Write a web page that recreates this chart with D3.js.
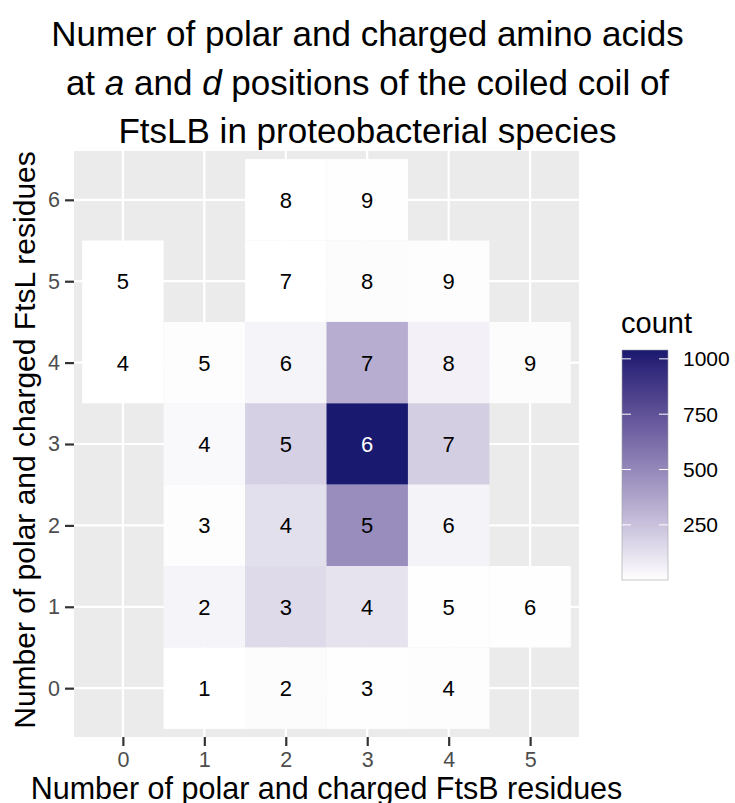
<!DOCTYPE html>
<html><head><meta charset="utf-8">
<script src="https://cdn.jsdelivr.net/npm/d3@7"></script>
<style>
body{margin:0;background:#fff}
text{font-family:"Liberation Sans",Arial,Helvetica,sans-serif}
</style>
</head><body>
<svg id="chart" width="735" height="803"></svg>
<script>
// ---- data ----
const xLevels = [0, 1, 2, 3, 4, 5];
const yLevels = [0, 1, 2, 3, 4, 5, 6];
const tileX     = [2, 3,   0, 2, 3, 4,   0, 1, 2, 3, 4, 5,   1, 2, 3, 4,   1, 2, 3, 4,   1, 2, 3, 4, 5,   1, 2, 3, 4];
const tileY     = [6, 6,   5, 5, 5, 5,   4, 4, 4, 4, 4, 4,   3, 3, 3, 3,   2, 2, 2, 2,   1, 1, 1, 1, 1,   0, 0, 0, 0];
const tileCount = [2, 3,   1, 2, 12, 10, 1, 8, 45, 340, 57, 12, 30, 190, 1040, 198, 9, 127, 478, 50, 45, 150, 114, 5, 4, 1, 12, 5, 9];
const tileLabel = [8, 9,   5, 7, 8, 9,   4, 5, 6, 7, 8, 9,   4, 5, 6, 7,   3, 4, 5, 6,   2, 3, 4, 5, 6,   1, 2, 3, 4];
const legendTicks = [250, 500, 750, 1000];
const countRange = [1, 1040];

const tiles = tileX.map((x, i) => ({x, y: tileY[i], count: tileCount[i], label: tileLabel[i]}));

const svg = d3.select("#chart");
const P = {left: 74, right: 579, top: 151, bottom: 737};

const x = d3.scaleLinear().domain([-0.6, 5.6]).range([P.left, P.right]);
const y = d3.scaleLinear().domain([-0.6, 6.6]).range([P.bottom, P.top]);
const color = d3.scaleLinear().domain(countRange).range(["#ffffff", "#191970"]).interpolate(d3.interpolateLab);

// panel
svg.append("rect").attr("x", P.left).attr("y", P.top).attr("width", P.right - P.left).attr("height", P.bottom - P.top).attr("fill", "#ebebeb");
svg.append("g").selectAll("line").data(xLevels).join("line")
  .attr("x1", d => x(d)).attr("x2", d => x(d)).attr("y1", P.top).attr("y2", P.bottom)
  .attr("stroke", "#fff").attr("stroke-width", 2.2);
svg.append("g").selectAll("line").data(yLevels).join("line")
  .attr("y1", d => y(d)).attr("y2", d => y(d)).attr("x1", P.left).attr("x2", P.right)
  .attr("stroke", "#fff").attr("stroke-width", 2.2);

// title
const title = svg.append("text").attr("text-anchor", "middle").attr("font-size", 35).attr("fill", "#000");
title.append("tspan").attr("x", 367.5).attr("y", 46).text("Numer of polar and charged amino acids");
const l2 = title.append("tspan").attr("x", 367.5).attr("y", 95);
l2.append("tspan").text("at ");
l2.append("tspan").attr("font-style", "italic").text("a");
l2.append("tspan").text(" and ");
l2.append("tspan").attr("font-style", "italic").text("d");
l2.append("tspan").text(" positions of the coiled coil of");
title.append("tspan").attr("x", 367.5).attr("y", 143).text("FtsLB in proteobacterial species");

// tiles
svg.append("g").selectAll("rect").data(tiles).join("rect")
  .attr("x", d => x(d.x - 0.5)).attr("y", d => y(d.y + 0.5))
  .attr("width", x(0.5) - x(-0.5)).attr("height", y(-0.5) - y(0.5))
  .attr("fill", d => color(d.count));
svg.append("g").selectAll("text").data(tiles).join("text")
  .attr("x", d => x(d.x)).attr("y", d => y(d.y)).attr("dy", "0.36em")
  .attr("text-anchor", "middle").attr("font-size", 22)
  .attr("fill", d => d.count > 700 ? "#fff" : "#000")
  .text(d => d.label);

// axes
const xAxis = svg.append("g").attr("transform", `translate(0,${P.bottom})`)
  .call(d3.axisBottom(x).tickValues(xLevels).tickSize(9).tickPadding(6).tickFormat(d3.format("d")));
const yAxis = svg.append("g").attr("transform", `translate(${P.left},0)`)
  .call(d3.axisLeft(y).tickValues(yLevels).tickSize(9).tickPadding(5).tickFormat(d3.format("d")));
[xAxis, yAxis].forEach(a => {
  a.select(".domain").remove();
  a.selectAll(".tick line").attr("stroke", "#333").attr("stroke-width", 2.2);
  a.selectAll(".tick text").attr("fill", "#4d4d4d").attr("font-size", 21.5)
    .attr("font-family", '"Liberation Sans",Arial,sans-serif');
});

// axis titles
svg.append("text").attr("x", (P.left + P.right) / 2).attr("y", 799).attr("text-anchor", "middle")
  .attr("font-size", 30.5).attr("fill", "#000").text("Number of polar and charged FtsB residues");
svg.append("text").attr("transform", `translate(35,${(P.top + P.bottom) / 2 - 4}) rotate(-90)`)
  .attr("text-anchor", "middle").attr("font-size", 30).attr("fill", "#000")
  .text("Number of polar and charged FtsL residues");

// legend
const L = {x: 622, w: 46, top: 350, bottom: 580};
const ly = d3.scaleLinear().domain(countRange).range([L.bottom, L.top]);
const defs = svg.append("defs");
const grad = defs.append("linearGradient").attr("id", "lg").attr("x1", 0).attr("y1", 1).attr("x2", 0).attr("y2", 0);
d3.range(0, 1.0001, 0.05).forEach(t => {
  grad.append("stop").attr("offset", t).attr("stop-color", color(countRange[0] + t * (countRange[1] - countRange[0])));
});
svg.append("text").attr("x", 621).attr("y", 333).attr("font-size", 29).attr("fill", "#000").text("count");
svg.append("rect").attr("x", L.x).attr("y", L.top).attr("width", L.w).attr("height", L.bottom - L.top)
  .attr("fill", "url(#lg)").attr("stroke", "#a0a0a0").attr("stroke-width", 0.6);
const lt = svg.append("g");
lt.selectAll("line.l").data(legendTicks).join("line").attr("class", "l")
  .attr("x1", L.x).attr("x2", L.x + 9).attr("y1", d => ly(d)).attr("y2", d => ly(d))
  .attr("stroke", "#fff").attr("stroke-width", 1);
lt.selectAll("line.r").data(legendTicks).join("line").attr("class", "r")
  .attr("x1", L.x + L.w - 9).attr("x2", L.x + L.w).attr("y1", d => ly(d)).attr("y2", d => ly(d))
  .attr("stroke", "#fff").attr("stroke-width", 1);
lt.selectAll("text").data(legendTicks).join("text")
  .attr("x", 683).attr("y", d => ly(d)).attr("dy", "0.36em").attr("font-size", 21).attr("fill", "#000")
  .text(d => d);
</script>
</body></html>
